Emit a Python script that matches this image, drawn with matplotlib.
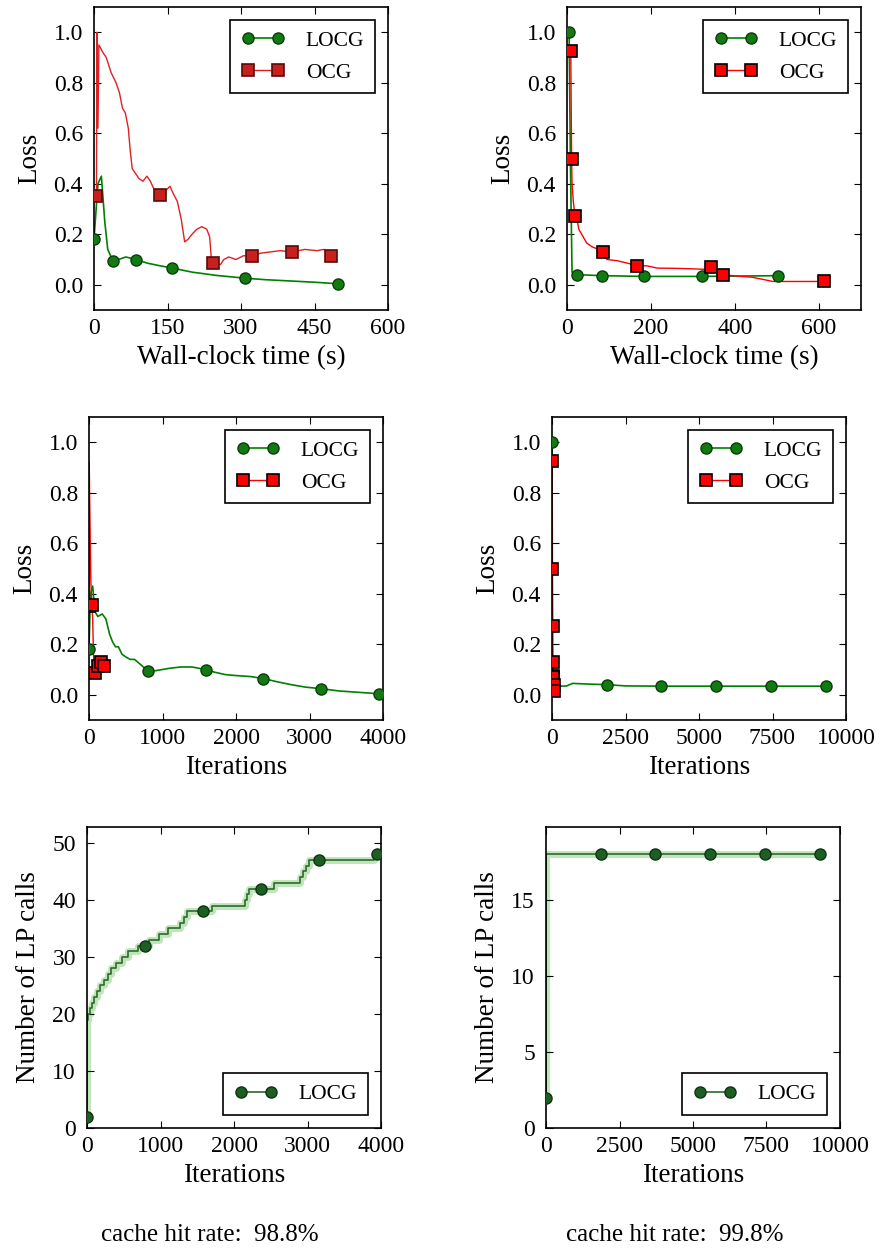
import matplotlib.pyplot as plt
from matplotlib.lines import Line2D

# ---- data ----
# top left: loss vs wall-clock time
tl_locg_t = [0, 8, 15, 22, 28, 35, 39, 50, 65, 85, 110, 135, 160, 200, 250, 308, 350, 400, 450, 497]
tl_locg_y = [0.18, 0.40, 0.43, 0.25, 0.14, 0.11, 0.093, 0.10, 0.11, 0.10, 0.085, 0.075, 0.066, 0.05, 0.037,
             0.026, 0.02, 0.015, 0.01, 0.004]
tl_locg_mt = [0, 39, 85, 160, 308, 497]
tl_locg_my = [0.18, 0.093, 0.10, 0.066, 0.026, 0.004]
tl_ocg_t = [5, 6, 8, 10, 18, 25, 35, 45, 52, 58, 64, 70, 74, 78, 85, 92, 100, 108, 115, 122, 134, 145, 155,
            162, 170, 178, 185, 192, 200, 210, 220, 230, 236, 240, 248, 258, 265, 275, 290, 305, 323, 340,
            360, 380, 405, 430, 455, 470, 484]
tl_ocg_y = [0.35, 1.0, 0.62, 0.95, 0.92, 0.90, 0.84, 0.80, 0.76, 0.70, 0.68, 0.62, 0.53, 0.46, 0.44, 0.42,
            0.41, 0.43, 0.41, 0.38, 0.355, 0.37, 0.39, 0.36, 0.33, 0.26, 0.17, 0.18, 0.20, 0.22, 0.23, 0.22,
            0.19, 0.09, 0.085, 0.08, 0.10, 0.11, 0.10, 0.115, 0.113, 0.125, 0.13, 0.135, 0.13, 0.14, 0.135,
            0.14, 0.113]
tl_ocg_mt = [5, 134, 242, 323, 405, 484]
tl_ocg_my = [0.35, 0.355, 0.088, 0.113, 0.13, 0.113]

# top right: loss vs wall-clock time
tr_locg_t = [5, 8, 12, 23, 83, 183, 322, 503]
tr_locg_y = [1.0, 0.5, 0.05, 0.04, 0.036, 0.033, 0.033, 0.036]
tr_locg_mt = [5, 23, 83, 183, 322, 503]
tr_locg_my = [1.0, 0.04, 0.036, 0.033, 0.033, 0.036]
tr_ocg_t = [9, 10, 11, 12, 15, 19, 25, 28, 35, 47, 60, 75, 86, 95, 120, 145, 167, 190, 215, 260, 300, 343,
            360, 371, 400, 440, 470, 490, 611]
tr_ocg_y = [0.925, 0.70, 0.50, 0.40, 0.33, 0.273, 0.25, 0.22, 0.20, 0.165, 0.15, 0.14, 0.128, 0.10, 0.095,
            0.085, 0.075, 0.075, 0.066, 0.065, 0.063, 0.06, 0.05, 0.04, 0.035, 0.03, 0.02, 0.013, 0.013]
tr_ocg_mt = [9, 11, 19, 86, 167, 343, 371, 611]
tr_ocg_my = [0.925, 0.50, 0.273, 0.128, 0.075, 0.069, 0.04, 0.013]

# middle left: loss vs iterations
ml_locg_it = [0, 20, 50, 80, 120, 180, 230, 280, 320, 360, 400, 450, 500, 560, 620, 700, 805, 900, 1000, 1100,
              1250, 1400, 1586, 1700, 1850, 2000, 2200, 2373, 2550, 2750, 2950, 3159, 3400, 3650, 3941]
ml_locg_y = [0.18, 0.40, 0.43, 0.33, 0.31, 0.32, 0.30, 0.24, 0.21, 0.19, 0.19, 0.16, 0.15, 0.14, 0.14, 0.12,
             0.093, 0.095, 0.10, 0.105, 0.11, 0.11, 0.10, 0.09, 0.08, 0.076, 0.072, 0.064, 0.052, 0.04, 0.03,
             0.024, 0.015, 0.01, 0.004]
ml_locg_mit = [0, 805, 1586, 2373, 3159, 3941]
ml_locg_my = [0.18, 0.093, 0.10, 0.064, 0.024, 0.004]
ml_ocg_it = [0, 3, 8, 15, 25, 40, 50, 60, 72, 80, 95, 120, 140, 160, 180, 200]
ml_ocg_y = [0.35, 0.92, 0.80, 0.65, 0.45, 0.355, 0.30, 0.17, 0.085, 0.088, 0.10, 0.113, 0.125, 0.13, 0.12, 0.113]
ml_ocg_mit = [0, 40, 80, 120, 160, 200]
ml_ocg_my = [0.35, 0.355, 0.088, 0.113, 0.13, 0.113]

# middle right: loss vs iterations
mr_locg_it = [0, 10, 20, 100, 500, 700, 1300, 1875, 2500, 3724, 5586, 7448, 9310]
mr_locg_y = [1.0, 0.6, 0.04, 0.033, 0.035, 0.045, 0.042, 0.04, 0.035, 0.034, 0.034, 0.034, 0.034]
mr_locg_mit = [0, 1862, 3724, 5586, 7448, 9310]
mr_locg_my = [1.0, 0.04, 0.034, 0.034, 0.034, 0.034]
mr_ocg_it = [0, 9, 18, 27, 36, 45, 54, 63]
mr_ocg_y = [0.925, 0.50, 0.273, 0.128, 0.075, 0.069, 0.04, 0.013]

# bottom: number of LP calls vs iterations (step curves)
bl_it = [0, 0, 15, 40, 70, 100, 140, 180, 230, 280, 330, 400, 470, 560, 700, 850, 980, 1100, 1270, 1320, 1360,
         1700, 2150, 2180, 2200, 2550, 2900, 2940, 2980, 3020, 3900, 3950]
bl_calls = [2, 19, 20, 21, 22, 23, 24, 25, 26, 27, 28, 29, 30, 31, 32, 33, 34, 35, 36, 37, 38,
            39, 40, 41, 42, 43, 44, 45, 46, 47, 48, 48]
bl_mit = [0, 790, 1580, 2370, 3160, 3950]
bl_mcalls = [2, 32, 38, 42, 47, 48]
br_it = [0, 0, 9310]
br_calls = [2, 18, 18]
br_mit = [0, 1862, 3724, 5586, 7448, 9310]
br_mcalls = [2, 18, 18, 18, 18, 18]

cache_rates = ['98.8%', '99.8%']

# ---- style ----
plt.rcParams['font.family'] = ['Liberation Serif', 'DejaVu Serif']
plt.rcParams['xtick.direction'] = 'in'
plt.rcParams['ytick.direction'] = 'in'
plt.rcParams['xtick.top'] = True
plt.rcParams['ytick.right'] = True
plt.rcParams['xtick.major.size'] = 5
plt.rcParams['ytick.major.size'] = 5
plt.rcParams['xtick.major.pad'] = 6
plt.rcParams['ytick.major.pad'] = 8
plt.rcParams['xtick.labelsize'] = 17
plt.rcParams['ytick.labelsize'] = 17
plt.rcParams['axes.labelsize'] = 19.5
plt.rcParams['axes.linewidth'] = 1.2

GREEN = '#008000'
G_FACE = '#137a13'
G_EDGE = '#0b3d0b'
RED = '#ff0000'

fig = plt.figure(figsize=(8.83, 12.51), dpi=100)
W, H = 883.0, 1251.0


def add_ax(l, t, w, h):
    return fig.add_axes([l / W, 1 - (t + h) / H, w / W, h / H])


ax_tl = add_ax(94, 7, 294, 303)
ax_tr = add_ax(567, 7, 294, 303)
ax_ml = add_ax(89, 417, 294, 303)
ax_mr = add_ax(552, 417, 294, 303)
ax_bl = add_ax(87, 827, 294, 301)
ax_br = add_ax(546, 827, 294, 301)


def clip(ax, lines):
    for ln in lines:
        ln.set_clip_path(ax.patch)


def locg_handle(face=G_FACE, edge=G_EDGE):
    return Line2D([], [], color=GREEN, lw=1.2, marker='o', ms=8, mfc=face, mec=edge, mew=1)


def ocg_handle(face=RED, edge='black', lc=RED):
    return Line2D([], [], color=lc, lw=1.0, marker='s', ms=9, mfc=face, mec=edge, mew=1.2)


def loss_panel(ax, lx, ly, mx, my, ox, oy, omx, omy, ocg_face=RED, ocg_edge='black', ocg_line=RED):
    ax.plot(lx, ly, color=GREEN, lw=1.2, zorder=2)
    m1 = ax.plot(mx, my, 'o', ms=8, mfc=G_FACE, mec=G_EDGE, mew=1, zorder=3)
    ax.plot(ox, oy, color=ocg_line, lw=1.0, zorder=2)
    m2 = ax.plot(omx, omy, 's', ms=9, mfc=ocg_face, mec=ocg_edge, mew=1.2, zorder=3)
    clip(ax, m1 + m2)
    ax.set_ylim(-0.1, 1.1)
    ax.set_yticks([0.0, 0.2, 0.4, 0.6, 0.8, 1.0])
    ax.set_yticklabels(['0.0', '0.2', '0.4', '0.6', '0.8', '1.0'])
    ax.set_ylabel('Loss', labelpad=8)
    leg = ax.legend([locg_handle(), ocg_handle(ocg_face, ocg_edge, ocg_line)], ['LOCG', 'OCG'],
                    loc='upper right', fontsize=15.5, numpoints=2, handlelength=2.0, fancybox=False,
                    framealpha=1, edgecolor='black', borderpad=0.5, labelspacing=0.55, handletextpad=1.0,
                    borderaxespad=0.6)
    leg.get_frame().set_linewidth(1.2)


loss_panel(ax_tl, tl_locg_t, tl_locg_y, tl_locg_mt, tl_locg_my, tl_ocg_t, tl_ocg_y, tl_ocg_mt, tl_ocg_my,
           ocg_face='#c8201e', ocg_edge='#5a0a0a', ocg_line='#e02020')
ax_tl.set_xlim(0, 600)
ax_tl.set_xticks([0, 150, 300, 450, 600])
ax_tl.set_xlabel('Wall-clock time (s)')

loss_panel(ax_tr, tr_locg_t, tr_locg_y, tr_locg_mt, tr_locg_my, tr_ocg_t, tr_ocg_y, tr_ocg_mt, tr_ocg_my)
ax_tr.set_xlim(0, 700)
ax_tr.set_xticks([0, 200, 400, 600])
ax_tr.set_xlabel('Wall-clock time (s)')

loss_panel(ax_ml, ml_locg_it, ml_locg_y, ml_locg_mit, ml_locg_my, ml_ocg_it, ml_ocg_y, ml_ocg_mit, ml_ocg_my)
ax_ml.set_xlim(0, 4000)
ax_ml.set_xticks([0, 1000, 2000, 3000, 4000])
ax_ml.set_xlabel('Iterations')

loss_panel(ax_mr, mr_locg_it, mr_locg_y, mr_locg_mit, mr_locg_my, mr_ocg_it, mr_ocg_y, mr_ocg_it, mr_ocg_y)
ax_mr.set_xlim(0, 10000)
ax_mr.set_xticks([0, 2500, 5000, 7500, 10000])
ax_mr.set_xlabel('Iterations')


def calls_panel(ax, it, calls, mit, mcalls, xmax, xticks, yticks):
    ax.step(it, calls, where='post', color='#bfe6b8', lw=5, zorder=1)
    ax.step(it, calls, where='post', color='#2e6a2e', lw=1.2, zorder=2)
    m = ax.plot(mit, mcalls, 'o', ms=8, mfc='#1d5e25', mec='#0d3512', mew=1, zorder=3)
    clip(ax, m)
    ax.set_xlim(0, xmax)
    ax.set_xticks(xticks)
    ax.set_ylim(0, max(calls) * 1.1)
    ax.set_yticks(yticks)
    ax.set_xlabel('Iterations')
    ax.set_ylabel('Number of LP calls', labelpad=8)
    h = Line2D([], [], color='#2e6a2e', lw=1.2, marker='o', ms=8, mfc='#1d5e25', mec='#0d3512', mew=1)
    leg = ax.legend([h], ['LOCG'], loc='lower right', fontsize=15.5, numpoints=2, handlelength=2.0,
                    fancybox=False, framealpha=1, edgecolor='black', borderpad=0.5, handletextpad=1.0,
                    borderaxespad=0.6)
    leg.get_frame().set_linewidth(1.2)


calls_panel(ax_bl, bl_it, bl_calls, bl_mit, bl_mcalls, 4000, [0, 1000, 2000, 3000, 4000], [0, 10, 20, 30, 40, 50])
calls_panel(ax_br, br_it, br_calls, br_mit, br_mcalls, 10000, [0, 2500, 5000, 7500, 10000], [0, 5, 10, 15])

fig.text(210 / W, 1 - 1235 / H, 'cache hit rate:  ' + cache_rates[0], ha='center', va='center', fontsize=18)
fig.text(675 / W, 1 - 1235 / H, 'cache hit rate:  ' + cache_rates[1], ha='center', va='center', fontsize=18)

fig.savefig('out.png', dpi=100)
